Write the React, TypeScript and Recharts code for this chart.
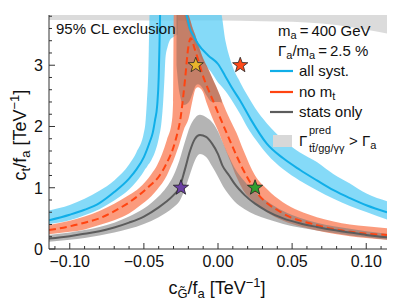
import { ComposedChart, Area, Line, Scatter, XAxis, YAxis } from "recharts"

const FONT = "'Liberation Sans', Arial, Helvetica, sans-serif"
const frame = "#333"

// axis ticks
const xTicks = [-0.11, -0.1, -0.09, -0.08, -0.07, -0.06, -0.05, -0.04, -0.03, -0.02, -0.01, 0, 0.01, 0.02, 0.03, 0.04, 0.05, 0.06, 0.07, 0.08, 0.09, 0.1, 0.11]
const yTicks = [0, 0.2, 0.4, 0.6, 0.8, 1, 1.2, 1.4, 1.6, 1.8, 2, 2.2, 2.4, 2.6, 2.8, 3, 3.2, 3.4, 3.6, 3.8]

// all syst. (blue) - two branches of the contour
const blueLeftX = [-0.114, -0.1, -0.09, -0.08, -0.07, -0.06, -0.055, -0.05, -0.046, -0.044, -0.0425, -0.041, -0.04, -0.0395, -0.039]
const blueLeftY = [0.47, 0.56, 0.64, 0.75, 0.93, 1.15, 1.3, 1.5, 1.75, 1.9, 2.1, 2.35, 2.8, 3.3, 3.9]
const blueRightX = [-0.0225, -0.021, -0.019, -0.0165, -0.0133, -0.0066, 0, 0.0047, 0.0092, 0.015, 0.022, 0.0329, 0.044, 0.0554, 0.0667, 0.0779, 0.089, 0.1005, 0.114]
const blueRightY = [3.9, 3.8, 3.6, 3.48, 3.34, 3.16, 3.02, 2.83, 2.64, 2.42, 2.12, 1.72, 1.48, 1.29, 1.12, 0.96, 0.83, 0.71, 0.6]

const blueLeftBandX = [-0.114, -0.1, -0.09, -0.08, -0.07, -0.06, -0.055, -0.05, -0.049, -0.048, -0.047, -0.046, -0.045, -0.042, -0.04, -0.038, -0.037, -0.036, -0.0355, -0.034, -0.0324, -0.03, -0.027]
const blueLeftBandLo = [0.41, 0.47, 0.55, 0.65, 0.79, 0.97, 1.1, 1.27, 1.31, 1.34, 1.38, 1.41, 1.45, 1.62, 1.8, 2.1, 2.4, 2.85, 3.1, 3.3, 3.41, 3.46, 3.5]
const blueLeftBandHi = [0.63, 0.72, 0.82, 0.95, 1.12, 1.38, 1.58, 1.9, 2.05, 2.4, 2.9, 3.9, 3.9, 3.9, 3.9, 3.9, 3.9, 3.9, 3.9, 3.9, 3.9, 3.9, 3.9]

const blueRightBandX = [-0.024, -0.02, -0.015, -0.01, -0.005, 0, 0.0014, 0.005, 0.01, 0.015, 0.02, 0.025, 0.033, 0.044, 0.055, 0.0667, 0.078, 0.089, 0.1005, 0.114]
const blueRightBandLo = [3.9, 3.6, 3.3, 3.05, 2.9, 2.72, 2.68, 2.58, 2.4, 2.2, 1.98, 1.8, 1.55, 1.3, 1.12, 0.96, 0.82, 0.7, 0.6, 0.48]
const blueRightBandHi = [3.9, 3.9, 3.9, 3.9, 3.9, 3.9, 3.9, 3.4, 2.97, 2.72, 2.5, 2.3, 2.05, 1.78, 1.58, 1.42, 1.22, 1.07, 0.9, 0.78]

// no m_t (orange)
const orangeX = [-0.114, -0.1, -0.09, -0.08, -0.069, -0.06, -0.0466, -0.04, -0.0353, -0.0286, -0.0252, -0.0223, -0.02, -0.0185, -0.0155, -0.0099, -0.003, 0.0059, 0.0171, 0.025, 0.044, 0.0667, 0.089, 0.114]
const orangeY = [0.31, 0.37, 0.43, 0.5, 0.63, 0.76, 1.02, 1.18, 1.37, 1.78, 2.15, 2.75, 3.3, 3.44, 3.25, 2.81, 2.4, 1.89, 1.29, 0.96, 0.58, 0.39, 0.28, 0.23]

const orangeBandX = [-0.114, -0.1, -0.09, -0.08, -0.07, -0.06, -0.053, -0.045, -0.041, -0.0345, -0.031, -0.0303, -0.0298, -0.026, -0.023, -0.0196, -0.017, -0.015, -0.0135, -0.0105, -0.0076, -0.004, 0.0014, 0.0025, 0.008, 0.0126, 0.017, 0.025, 0.033, 0.044, 0.055, 0.0667, 0.078, 0.089, 0.1, 0.114]
const orangeBandLo = [0.24, 0.28, 0.32, 0.39, 0.47, 0.58, 0.7, 0.86, 0.97, 1.2, 1.39, 1.43, 1.46, 1.72, 1.95, 2.15, 2.45, 2.62, 2.64, 2.58, 2.38, 2.15, 1.85, 1.78, 1.45, 1.17, 0.96, 0.76, 0.6, 0.46, 0.37, 0.3, 0.25, 0.21, 0.18, 0.15]
const orangeBandHi = [0.39, 0.46, 0.53, 0.62, 0.74, 0.88, 1.0, 1.22, 1.37, 1.78, 2.1, 2.4, 3.9, 3.9, 3.9, 3.8, 3.6, 3.47, 3.35, 3.14, 2.99, 2.8, 2.5, 2.43, 2.12, 1.89, 1.62, 1.2, 0.98, 0.76, 0.62, 0.52, 0.45, 0.4, 0.37, 0.34]

// stats only (gray)
const grayX = [-0.114, -0.1, -0.09, -0.08, -0.07, -0.06, -0.05, -0.04, -0.035, -0.03, -0.026, -0.0223, -0.0189, -0.0155, -0.0122, -0.008, -0.004, 0, 0.003, 0.0075, 0.011, 0.018, 0.025, 0.033, 0.044, 0.055, 0.0667, 0.078, 0.089, 0.1, 0.114]
const grayY = [0.17, 0.21, 0.25, 0.29, 0.35, 0.43, 0.53, 0.68, 0.77, 0.88, 1.0, 1.3, 1.6, 1.8, 1.86, 1.83, 1.72, 1.55, 1.36, 1.2, 1.07, 0.88, 0.74, 0.62, 0.5, 0.42, 0.36, 0.31, 0.27, 0.23, 0.19]
const grayBandLo = [0.12, 0.15, 0.18, 0.22, 0.27, 0.33, 0.41, 0.52, 0.59, 0.68, 0.78, 0.98, 1.22, 1.45, 1.55, 1.5, 1.35, 1.18, 1.04, 0.88, 0.78, 0.65, 0.56, 0.49, 0.41, 0.35, 0.3, 0.26, 0.22, 0.19, 0.15]
const grayBandHi = [0.23, 0.27, 0.31, 0.36, 0.43, 0.53, 0.66, 0.86, 1.0, 1.2, 1.45, 1.75, 2.0, 2.14, 2.19, 2.15, 2.07, 1.92, 1.75, 1.5, 1.33, 1.1, 0.93, 0.78, 0.62, 0.51, 0.43, 0.37, 0.33, 0.29, 0.25]

// Gamma_pred > Gamma_a regions
const widthTopX = [-0.114, -0.08, -0.05, -0.02, 0, 0.03, 0.05, 0.07, 0.09, 0.1, 0.114]
const widthTopLo = [3.74, 3.74, 3.73, 3.73, 3.73, 3.72, 3.71, 3.68, 3.62, 3.58, 3.52]
const widthTopHi = [3.9, 3.9, 3.9, 3.9, 3.9, 3.9, 3.9, 3.9, 3.9, 3.9, 3.9]
const widthMidX = [-0.028, -0.026, -0.023, -0.0196, -0.017, -0.015, -0.0135, -0.0105, -0.0076, -0.004, 0.0014, 0.0025]
const widthMidLo = [3.0, 2.55, 2.35, 2.4, 2.55, 2.67, 2.69, 2.63, 2.5, 2.4, 2.4, 2.38]
const widthMidHi = [3.9, 3.9, 3.9, 3.8, 3.6, 3.47, 3.35, 3.14, 2.99, 2.8, 2.5, 2.43]

// benchmark points
const starX = [-0.025, 0.025, -0.015, 0.015]
const starY = [1, 1, 3, 3]
const starColor = ["#6a3fa3", "#2f9e2f", "#e8b52c", "#ff4a1a"]

const pts = (xs: number[], ys: number[]) => xs.map((x, i) => ({ x, y: ys[i] }))
const band = (xs: number[], lo: number[], hi: number[]) => xs.map((x, i) => ({ x, range: [lo[i], hi[i]] }))
const stars = starX.map((x, i) => ({ x, y: starY[i], color: starColor[i] }))

const isMajorX = (v: number) => Math.abs(Math.round(v * 20) - v * 20) < 1e-6
const isMajorY = (v: number) => Math.abs(Math.round(v) - v) < 1e-6
const fmtX = (v: number) => (v < -1e-9 ? "\u2212" : "") + Math.abs(v).toFixed(2)

function BottomTick({ x, y, payload }: any) {
  const major = isMajorX(payload.value)
  return (
    <g>
      <line x1={x} x2={x} y1={y} y2={y - (major ? 6 : 3)} stroke={frame} />
      {major && (
        <text x={x} y={y + 18} textAnchor="middle" fontSize={16} fontFamily={FONT} fill="#111">
          {fmtX(payload.value)}
        </text>
      )}
    </g>
  )
}

function TopTick({ x, y, payload }: any) {
  const major = isMajorX(payload.value)
  return <line x1={x} x2={x} y1={y} y2={y + (major ? 6 : 3)} stroke={frame} />
}

function LeftTick({ x, y, payload }: any) {
  const major = isMajorY(payload.value)
  return (
    <g>
      <line x1={x} x2={x + (major ? 6 : 3)} y1={y} y2={y} stroke={frame} />
      {major && (
        <text x={x - 6} y={y + 6} textAnchor="end" fontSize={16} fontFamily={FONT} fill="#111">
          {payload.value}
        </text>
      )}
    </g>
  )
}

function RightTick({ x, y, payload }: any) {
  const major = isMajorY(payload.value)
  return <line x1={x} x2={x - (major ? 6 : 3)} y1={y} y2={y} stroke={frame} />
}

function Star({ cx, cy, payload }: any) {
  const p: string[] = []
  for (let i = 0; i < 10; i++) {
    const r = i % 2 ? 3.3 : 8
    const a = -Math.PI / 2 + (i * Math.PI) / 5
    p.push(`${cx + r * Math.cos(a)},${cy + r * Math.sin(a)}`)
  }
  return <polygon points={p.join(" ")} fill={payload.color} stroke="#222" strokeWidth={0.8} />
}

function Overlay() {
  const sub = 11
  return (
    <svg width={407} height={305} style={{ position: "absolute", left: 0, top: 0, pointerEvents: "none" }} fontFamily={FONT} fill="#111">
      <text x={56} y={34} fontSize={15}>95% CL exclusion</text>
      <text x={278} y={36} fontSize={15}>
        m<tspan fontSize={sub} dy={3}>a</tspan><tspan dy={-3}>{"\u2009=\u2009400 GeV"}</tspan>
      </text>
      <text x={278} y={56} fontSize={15}>
        Γ<tspan fontSize={sub} dy={3}>a</tspan><tspan dy={-3}>/m</tspan><tspan fontSize={sub} dy={3}>a</tspan>
        <tspan dy={-3}>{"\u2009=\u20092.5 %"}</tspan>
      </text>

      <line x1={270} x2={293} y1={71} y2={71} stroke="#10aee8" strokeWidth={2.2} />
      <text x={299} y={76} fontSize={15}>all syst.</text>
      <line x1={270} x2={293} y1={92} y2={92} stroke="#ff4411" strokeWidth={2.2} />
      <text x={299} y={97} fontSize={15}>
        no m<tspan fontSize={sub} dy={3}>t</tspan>
      </text>
      <line x1={270} x2={293} y1={112} y2={112} stroke="#5c5c5c" strokeWidth={2.2} />
      <text x={299} y={117} fontSize={15}>stats only</text>
      <rect x={273} y={135} width={19} height={12} fill="#d8d8d8" />
      <text x={299} y={146} fontSize={15}>Γ</text>
      <text x={309} y={134} fontSize={sub}>pred</text>
      <text x={309} y={152} fontSize={sub}>{"tt\u0304/gg/γγ"}</text>
      <text x={349} y={146} fontSize={15}>
        {"> Γ"}<tspan fontSize={sub} dy={3}>a</tspan>
      </text>

      <text x={217} y={294} fontSize={18} textAnchor="middle">
        c<tspan fontSize={13} dy={4}>{"G\u0303"}</tspan><tspan dy={-4}>/f</tspan><tspan fontSize={13} dy={4}>a</tspan>
        <tspan dy={-4}>{" [TeV"}</tspan><tspan fontSize={13} dy={-7}>{"\u22121"}</tspan><tspan dy={7}>]</tspan>
      </text>
      <text transform="translate(26,135) rotate(-90)" fontSize={18} textAnchor="middle">
        c<tspan fontSize={13} dy={4}>t</tspan><tspan dy={-4}>/f</tspan><tspan fontSize={13} dy={4}>a</tspan>
        <tspan dy={-4}>{" [TeV"}</tspan><tspan fontSize={13} dy={-7}>{"\u22121"}</tspan><tspan dy={7}>]</tspan>
      </text>
    </svg>
  )
}

export default function App() {
  return (
    <div style={{ position: "relative", width: 407, height: 305 }}>
      <style>{"body{margin:0}"}</style>
      <ComposedChart width={407} height={305} margin={{ top: 15, right: 20, bottom: 0, left: 0 }}>
        <XAxis dataKey="x" type="number" domain={[-0.114, 0.114]} allowDataOverflow ticks={xTicks} interval={0}
          tickSize={0} tickMargin={0} tickLine={false} height={56} axisLine={{ stroke: frame }}
          tick={(p: any) => <BottomTick {...p} />} />
        <XAxis xAxisId="top" orientation="top" dataKey="x" type="number" domain={[-0.114, 0.114]} allowDataOverflow
          ticks={xTicks} interval={0} tickSize={0} tickMargin={0} tickLine={false} height={0} axisLine={{ stroke: frame }}
          tick={(p: any) => <TopTick {...p} />} />
        <YAxis type="number" domain={[0, 3.82]} allowDataOverflow ticks={yTicks} interval={0} tickSize={0} tickMargin={0}
          tickLine={false} width={49} axisLine={{ stroke: frame }} tick={(p: any) => <LeftTick {...p} />} />
        <YAxis yAxisId="right" orientation="right" type="number" domain={[0, 3.82]} allowDataOverflow ticks={yTicks}
          interval={0} tickSize={0} tickMargin={0} tickLine={false} width={0} axisLine={{ stroke: frame }}
          tick={(p: any) => <RightTick {...p} />} />

        <Area data={band(widthTopX, widthTopLo, widthTopHi)} dataKey="range" type="monotone" stroke="none" fill="#c8c8c8" fillOpacity={0.65} isAnimationActive={false} activeDot={false} />
        <Area data={band(blueLeftBandX, blueLeftBandLo, blueLeftBandHi)} dataKey="range" type="monotone" stroke="none" fill="#5ccdf5" fillOpacity={0.75} isAnimationActive={false} activeDot={false} />
        <Area data={band(blueRightBandX, blueRightBandLo, blueRightBandHi)} dataKey="range" type="monotone" stroke="none" fill="#5ccdf5" fillOpacity={0.75} isAnimationActive={false} activeDot={false} />
        <Area data={band(orangeBandX, orangeBandLo, orangeBandHi)} dataKey="range" type="monotone" stroke="none" fill="#f97a52" fillOpacity={0.75} isAnimationActive={false} activeDot={false} />
        <Area data={band(widthMidX, widthMidLo, widthMidHi)} dataKey="range" type="monotone" stroke="none" fill="#77574c" fillOpacity={0.42} isAnimationActive={false} activeDot={false} />
        <Area data={band(grayX, grayBandLo, grayBandHi)} dataKey="range" type="monotone" stroke="none" fill="#777" fillOpacity={0.55} isAnimationActive={false} activeDot={false} />

        <Line data={pts(blueLeftX, blueLeftY)} dataKey="y" type="monotone" stroke="#10aee8" strokeWidth={2} dot={false} activeDot={false} isAnimationActive={false} />
        <Line data={pts(blueRightX, blueRightY)} dataKey="y" type="monotone" stroke="#10aee8" strokeWidth={2} dot={false} activeDot={false} isAnimationActive={false} />
        <Line data={pts(orangeX, orangeY)} dataKey="y" type="monotone" stroke="#ff4411" strokeWidth={2} strokeDasharray="7 4" dot={false} activeDot={false} isAnimationActive={false} />
        <Line data={pts(grayX, grayY)} dataKey="y" type="monotone" stroke="#5c5c5c" strokeWidth={2} dot={false} activeDot={false} isAnimationActive={false} />

        <Scatter data={stars} dataKey="y" shape={(p: any) => <Star {...p} />} isAnimationActive={false} />
      </ComposedChart>
      <Overlay />
    </div>
  )
}
